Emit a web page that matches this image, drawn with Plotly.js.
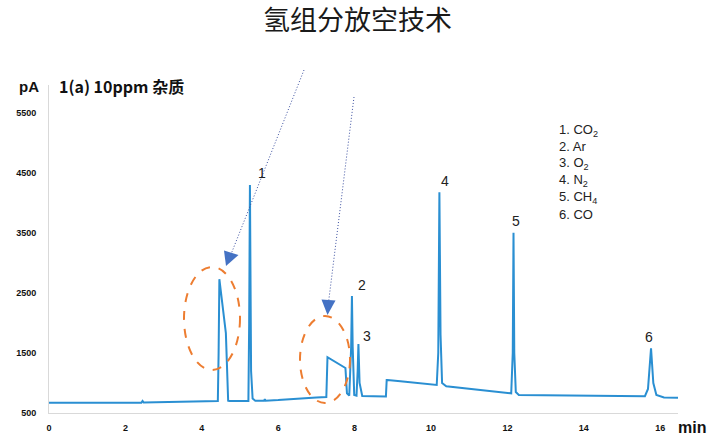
<!DOCTYPE html>
<html>
<head>
<meta charset="utf-8">
<script src="https://cdn.plot.ly/plotly-3.0.1.min.js"></script>
<style>html,body{margin:0;padding:0;background:#fff;}#chart{width:715px;height:446px;}</style>
</head>
<body>
<div id="chart"></div>
<script>
// Retention time (min)
var timeMin = [0, 1, 2, 2.42, 2.45, 2.48, 3, 4, 4.42, 4.44, 4.46, 4.63, 4.66, 4.69, 4.72, 5.0, 5.22, 5.24, 5.26, 5.29, 5.33, 5.4, 5.63, 5.65, 5.67, 6.0, 6.5, 7.0, 7.26, 7.27, 7.29, 7.76, 7.78, 7.8, 7.86, 7.91, 7.93, 7.95, 7.99, 8.05, 8.08, 8.1, 8.13, 8.2, 8.5, 8.82, 8.84, 8.86, 9.2, 9.6, 10.15, 10.19, 10.22, 10.25, 10.29, 10.4, 10.6, 11, 11.5, 12.1, 12.14, 12.16, 12.18, 12.22, 12.3, 13, 14, 15, 15.6, 15.68, 15.76, 15.82, 15.9, 16.1, 16.47];
// Detector signal (pA)
var signalPA = [670, 665, 670, 672, 700, 675, 685, 700, 700, 1500, 2730, 1830, 1200, 705, 700, 700, 700, 2000, 4300, 1200, 740, 705, 705, 730, 705, 715, 740, 760, 765, 1200, 1430, 1250, 1000, 830, 790, 1600, 2450, 1600, 800, 790, 1200, 1650, 1000, 785, 780, 775, 1050, 1050, 1030, 1005, 967, 1500, 4178, 1800, 1000, 945, 930, 900, 865, 828, 1500, 3505, 1500, 850, 800, 795, 790, 782, 780, 900, 1580, 1000, 800, 760, 755];

var xTicks = [0, 2, 4, 6, 8, 10, 12, 14, 16];
var yTicks = [500, 1500, 2500, 3500, 4500, 5500];
var peakNames = ['1', '2', '3', '4', '5', '6'];
var peakTimes = [5.26, 7.93, 8.1, 10.22, 12.16, 15.76];
var peakHeights = [4300, 2450, 1650, 4178, 3505, 1580];
var legendLines = ['1. CO<sub>2</sub>', '2. Ar', '3. O<sub>2</sub>', '4. N<sub>2</sub>', '5. CH<sub>4</sub>', '6. CO'];

// plot area in pixels
var L = 49, R = 678, T = 85, B = 413;
function px(x) { return (x - L) / (R - L); }
function py(y) { return (B - y) / (B - T); }

var FONT = 'Liberation Sans, Arial, sans-serif';
var CJK = 'Noto Sans CJK SC, sans-serif';

var trace = {
  x: timeMin, y: signalPA, type: 'scatter', mode: 'lines',
  line: {color: '#2A8FD2', width: 2}, hoverinfo: 'skip'
};

var annotations = [];
// peak labels
var labelDx = [12, 10, 9, 6, 2, -2];
var labelDy = [12, 11, 8, 11, 12, 11];
for (var i = 0; i < peakNames.length; i++) {
  annotations.push({x: peakTimes[i], y: peakHeights[i], xref: 'x', yref: 'y', text: peakNames[i], showarrow: false,
    xshift: labelDx[i], yshift: labelDy[i], font: {family: FONT, size: 14, color: '#222'}});
}
// legend block
for (var j = 0; j < legendLines.length; j++) {
  annotations.push({x: px(557), y: py(130 + j * 16.8), xref: 'paper', yref: 'paper', xanchor: 'left', yanchor: 'middle',
    text: legendLines[j], showarrow: false, font: {family: FONT, size: 13, color: '#222'}});
}
annotations.push({x: px(41), y: py(86), xref: 'paper', yref: 'paper', xanchor: 'right', yanchor: 'middle', text: '<b>pA</b>', showarrow: false, font: {family: FONT, size: 15, color: '#111'}});
annotations.push({x: px(57), y: py(86), xref: 'paper', yref: 'paper', xanchor: 'left', yanchor: 'middle', text: '<b>1(a) 10ppm 杂质</b>', showarrow: false, font: {family: CJK, size: 16, color: '#111'}});
annotations.push({x: px(676), y: py(427), xref: 'paper', yref: 'paper', xanchor: 'left', yanchor: 'middle', text: '<b>min</b>', showarrow: false, font: {family: FONT, size: 16, color: '#111'}});

function tri(tip, b1, b2) {
  return 'M' + px(tip[0]) + ',' + py(tip[1]) + ' L' + px(b1[0]) + ',' + py(b1[1]) + ' L' + px(b2[0]) + ',' + py(b2[1]) + ' Z';
}

var shapes = [
  {type: 'circle', xref: 'paper', yref: 'paper', x0: px(184), x1: px(240), y0: py(370), y1: py(267),
    line: {color: '#ED7D31', width: 2, dash: 'dash'}},
  {type: 'circle', xref: 'paper', yref: 'paper', x0: px(300), x1: px(350), y0: py(403), y1: py(316),
    line: {color: '#ED7D31', width: 2, dash: 'dash'}},
  {type: 'line', xref: 'paper', yref: 'paper', x0: px(304), y0: py(70), x1: px(231.5), y1: py(253),
    line: {color: '#3B4FA0', width: 1, dash: '1px,2px'}},
  {type: 'line', xref: 'paper', yref: 'paper', x0: px(354), y0: py(97), x1: px(328.7), y1: py(301),
    line: {color: '#3B4FA0', width: 1, dash: '1px,2px'}},
  {type: 'path', xref: 'paper', yref: 'paper', path: tri([226, 266], [238.5, 255], [224, 250.5]),
    fillcolor: '#4472C4', line: {width: 0}},
  {type: 'path', xref: 'paper', yref: 'paper', path: tri([327.5, 315], [335.5, 300.5], [321.5, 299.5]),
    fillcolor: '#4472C4', line: {width: 0}}
];

var layout = {
  width: 715, height: 446,
  margin: {l: L, r: 715 - R, t: T, b: 446 - B, pad: 0},
  paper_bgcolor: '#fff', plot_bgcolor: '#fff',
  showlegend: false,
  title: {text: '氢组分放空技术', x: 0.5, xref: 'container', xanchor: 'center', y: 1 - 21 / 446, yref: 'container', yanchor: 'middle',
    font: {family: CJK, size: 27, color: '#1a1a1a'}},
  xaxis: {range: [0, (R - L) / 38.2], tickvals: xTicks, ticktext: xTicks.map(String), showgrid: false, zeroline: false,
    showline: true, linecolor: '#d9d9d9', linewidth: 1, ticks: '', ticklabelstandoff: 6,
    tickfont: {family: FONT, size: 9, color: '#111', weight: 'bold'}},
  yaxis: {range: [500, 500 + (B - T) / 60 * 1000], tickvals: yTicks, ticktext: yTicks.map(String), showgrid: false, zeroline: false,
    showline: true, linecolor: '#d9d9d9', linewidth: 1, ticks: '', ticklabelstandoff: 10,
    tickfont: {family: FONT, size: 9, color: '#111', weight: 'bold'}},
  annotations: annotations,
  shapes: shapes
};

Plotly.newPlot('chart', [trace], layout, {displayModeBar: false, staticPlot: true});
</script>
</body>
</html>
